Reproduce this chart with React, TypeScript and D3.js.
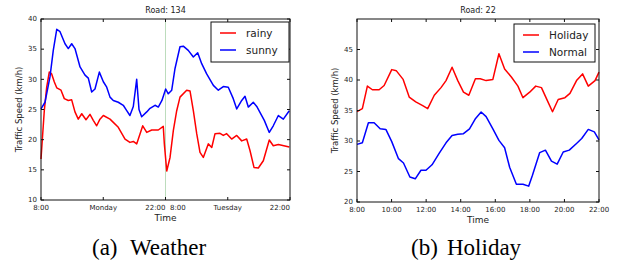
import React from "react";
import * as d3 from "d3";

// Road 134: hours elapsed across Monday (0-14) and Tuesday (14-28)
const rainyX = [0, 0.37, 0.64, 0.93, 1.2, 1.5, 1.77, 2.25, 2.62, 3.07, 3.45, 3.82, 4.19, 4.58, 5.06, 5.51, 5.88, 6.26, 6.63, 7.01, 7.76, 8.69, 9.45, 10.0, 10.38, 10.76, 11.44, 11.89, 12.45, 13.19, 13.75, 13.87, 14.14, 14.51, 14.88, 15.26, 15.63, 16.38, 16.76, 17.13, 17.51, 17.88, 18.25, 18.81, 19.2, 19.57, 20.13, 20.5, 20.88, 21.44, 22.01, 22.57, 23.13, 23.5, 23.95, 24.44, 25.0, 25.67, 26.12, 26.69, 27.92];
const rainyY = [16.8, 24.8, 28.7, 31.2, 30.9, 29.55, 28.6, 28.2, 26.8, 26.5, 26.6, 24.6, 23.4, 24.3, 23.3, 24.2, 23.2, 22.3, 23.4, 24.0, 23.4, 22.05, 20.1, 19.55, 19.7, 19.3, 22.3, 21.2, 21.6, 21.6, 22.2, 19.3, 14.8, 17.05, 21.5, 24.8, 27.05, 28.2, 28.05, 24.8, 21.0, 17.9, 17.05, 19.3, 18.7, 21.0, 21.05, 20.7, 21.0, 20.1, 20.7, 19.8, 20.1, 18.2, 15.4, 15.3, 16.5, 19.95, 19.0, 19.2, 18.8];
const sunnyX = [0, 0.45, 1.01, 1.38, 1.77, 2.14, 2.7, 3.07, 3.45, 3.82, 4.39, 4.95, 5.32, 5.7, 6.07, 6.56, 7.01, 7.39, 7.76, 8.13, 8.69, 9.25, 9.64, 10.0, 10.38, 10.76, 11.02, 11.32, 11.89, 12.26, 12.82, 13.19, 13.6, 14.02, 14.31, 14.7, 15.07, 15.63, 16.0, 16.56, 17.13, 17.62, 18.07, 18.63, 19.38, 19.94, 20.5, 21.06, 21.62, 22.01, 22.57, 22.94, 23.31, 23.87, 24.26, 24.82, 25.11, 25.67, 26.12, 26.69, 27.25, 27.92];
const sunnyY = [25.1, 26.2, 30.4, 34.8, 38.3, 37.9, 35.9, 35.1, 35.9, 35.1, 32.05, 30.7, 30.2, 27.9, 28.4, 31.2, 29.6, 28.7, 27.05, 26.5, 26.2, 25.7, 24.8, 24.0, 25.5, 30.0, 25.0, 23.8, 24.6, 25.2, 25.7, 25.4, 26.5, 28.4, 27.6, 28.2, 31.8, 35.4, 35.5, 34.8, 33.7, 34.4, 32.6, 30.9, 29.0, 28.2, 28.8, 28.7, 26.8, 25.1, 26.5, 27.2, 25.4, 26.2, 25.5, 24.0, 23.2, 21.2, 22.3, 24.0, 23.4, 24.8];
const weatherTicks = [0, 7, 14, 21, 28];
const weatherTickLabels = ["8:00", "Monday", "22:00  8:00", "Tuesday", "22:00"];
const weatherYTicks = [10, 15, 20, 25, 30, 35, 40];

// Road 22: hour of day
const holidayX = [8.0, 8.31, 8.6, 8.89, 9.28, 9.57, 10.01, 10.28, 10.67, 11.02, 11.4, 11.8, 12.09, 12.47, 12.86, 13.15, 13.5, 13.83, 14.16, 14.47, 14.85, 15.13, 15.47, 15.86, 16.21, 16.54, 16.93, 17.31, 17.6, 17.99, 18.34, 18.67, 19.0, 19.31, 19.64, 20.03, 20.32, 20.7, 21.05, 21.38, 21.77, 22.0];
const holidayY = [34.8, 35.3, 39.0, 38.4, 38.4, 39.1, 41.7, 41.5, 40.1, 37.2, 36.4, 35.8, 35.3, 37.5, 38.75, 39.9, 42.1, 39.9, 38.0, 37.5, 40.2, 40.2, 39.9, 40.1, 44.3, 41.8, 40.5, 39.0, 37.1, 38.0, 39.0, 38.75, 36.7, 34.8, 36.8, 37.1, 37.8, 39.9, 41.0, 39.0, 39.9, 41.3];
const normalX = [8.0, 8.31, 8.66, 8.99, 9.34, 9.67, 10.01, 10.4, 10.69, 11.06, 11.37, 11.7, 11.99, 12.34, 12.76, 13.15, 13.5, 13.83, 14.16, 14.51, 14.86, 15.18, 15.47, 15.86, 16.21, 16.54, 16.83, 17.22, 17.6, 17.93, 18.15, 18.57, 18.9, 19.25, 19.58, 19.93, 20.28, 20.7, 21.0, 21.38, 21.73, 22.0];
const normalY = [29.45, 29.7, 33.0, 33.0, 32.0, 31.9, 29.9, 27.1, 26.4, 24.1, 23.8, 25.2, 25.2, 26.1, 28.0, 29.7, 30.9, 31.1, 31.2, 32.0, 33.7, 34.75, 34.0, 32.0, 30.1, 28.9, 25.7, 22.9, 22.9, 22.6, 24.4, 28.1, 28.5, 26.7, 26.2, 28.2, 28.5, 29.6, 30.4, 31.9, 31.5, 30.2];
const holidayTicks = [8, 10, 12, 14, 16, 18, 20, 22];
const holidayYTicks = [20, 25, 30, 35, 40, 45];

const FONT = "DejaVu Sans";
const SERIF = "Liberation Serif";

type Series = { name: string; color: string; xs: number[]; ys: number[] };

interface PanelProps {
  title: string;
  left: number;
  right: number;
  top: number;
  bottom: number;
  xDomain: [number, number];
  yDomain: [number, number];
  xTicks: number[];
  xLabels: string[];
  yTicks: number[];
  series: Series[];
  divider?: number;
  legend: { x: number; y: number; w: number; h: number };
}

const Panel: React.FC<PanelProps> = ({
  title, left, right, top, bottom, xDomain, yDomain, xTicks, xLabels, yTicks, series, divider, legend,
}) => {
  const x = d3.scaleLinear().domain(xDomain).range([left, right]);
  const y = d3.scaleLinear().domain(yDomain).range([bottom, top]);
  const line = d3
    .line<[number, number]>()
    .x((d) => x(d[0]))
    .y((d) => y(d[1]));

  return (
    <g fontFamily={FONT}>
      <text x={(left + right) / 2} y={top - 6} fontSize={8} textAnchor="middle" fill="#222">
        {title}
      </text>
      {divider !== undefined && (
        <line x1={x(divider)} x2={x(divider)} y1={top} y2={bottom} stroke="#bcdcbc" strokeWidth={1} />
      )}
      {series.map((s) => (
        <path
          key={s.name}
          d={line(s.xs.map((v, i) => [v, s.ys[i]] as [number, number])) || ""}
          fill="none"
          stroke={s.color}
          strokeWidth={1.5}
          strokeLinejoin="round"
        />
      ))}
      <rect x={left} y={top} width={right - left} height={bottom - top} fill="none" stroke="#111" strokeWidth={1} />
      {yTicks.map((t) => (
        <g key={"y" + t}>
          <line x1={left} x2={left + 3} y1={y(t)} y2={y(t)} stroke="#111" />
          <line x1={right} x2={right - 3} y1={y(t)} y2={y(t)} stroke="#111" />
          <text x={left - 4} y={y(t)} dy="0.32em" fontSize={7} textAnchor="end" fill="#222">
            {t}
          </text>
        </g>
      ))}
      {xTicks.map((t, i) => (
        <g key={"x" + t}>
          <line x1={x(t)} x2={x(t)} y1={bottom} y2={bottom - 3} stroke="#111" />
          <line x1={x(t)} x2={x(t)} y1={top} y2={top + 3} stroke="#111" />
          <text
            x={x(t)}
            y={bottom + 10}
            fontSize={7}
            textAnchor={i === xTicks.length - 1 && divider !== undefined ? "end" : "middle"}
            fill="#222"
            style={{ whiteSpace: "pre" }}
          >
            {xLabels[i]}
          </text>
        </g>
      ))}
      <text x={(left + right) / 2} y={bottom + 21} fontSize={9} textAnchor="middle" fill="#222">
        Time
      </text>
      <text
        transform={`translate(${left - 19},${(top + bottom) / 2}) rotate(-90)`}
        fontSize={8.5}
        textAnchor="middle"
        fill="#222"
      >
        Traffic Speed (km/h)
      </text>
      <rect x={legend.x} y={legend.y} width={legend.w} height={legend.h} fill="#fff" stroke="#111" strokeWidth={1} />
      {series.map((s, i) => {
        const cy = legend.y + 11 + i * 17;
        return (
          <g key={"lg" + s.name}>
            <line x1={legend.x + 9} x2={legend.x + 25} y1={cy} y2={cy} stroke={s.color} strokeWidth={1.5} />
            <text x={legend.x + 35} y={cy} dy="0.35em" fontSize={10.5} fill="#222">
              {s.name}
            </text>
          </g>
        );
      })}
    </g>
  );
};

export default function App() {
  return (
    <svg
      width={617}
      height={266}
      style={{ position: "absolute", left: 0, top: 0, background: "#fff" }}
    >
      <Panel
        title="Road: 134"
        left={41}
        right={290}
        top={19}
        bottom={200}
        xDomain={[0, 28]}
        yDomain={[10, 40]}
        xTicks={weatherTicks}
        xLabels={weatherTickLabels}
        yTicks={weatherYTicks}
        divider={14}
        series={[
          { name: "rainy", color: "#ff0000", xs: rainyX, ys: rainyY },
          { name: "sunny", color: "#0000ff", xs: sunnyX, ys: sunnyY },
        ]}
        legend={{ x: 211, y: 22, w: 78, h: 40 }}
      />
      <Panel
        title="Road: 22"
        left={357}
        right={599}
        top={19}
        bottom={202}
        xDomain={[8, 22]}
        yDomain={[20, 50]}
        xTicks={holidayTicks}
        xLabels={holidayTicks.map((h) => `${h}:00`)}
        yTicks={holidayYTicks}
        series={[
          { name: "Holiday", color: "#ff0000", xs: holidayX, ys: holidayY },
          { name: "Normal", color: "#0000ff", xs: normalX, ys: normalY },
        ]}
        legend={{ x: 514, y: 24, w: 81, h: 38 }}
      />
      <text y={255} fontFamily={SERIF} fontSize={23} fill="#000">
        <tspan x={92}>(a)</tspan>
        <tspan x={130}>Weather</tspan>
      </text>
      <text y={255} fontFamily={SERIF} fontSize={23} fill="#000">
        <tspan x={411}>(b)</tspan>
        <tspan x={447}>Holiday</tspan>
      </text>
    </svg>
  );
}
